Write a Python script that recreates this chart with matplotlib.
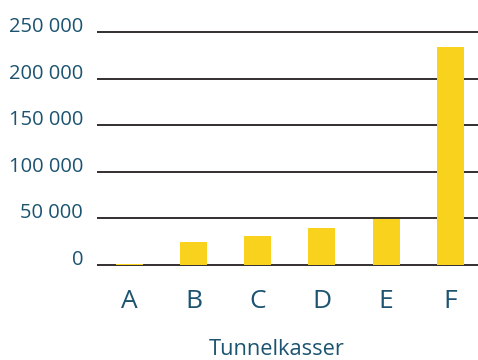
import matplotlib
matplotlib.use('Agg')
import matplotlib.pyplot as plt

categories = ['A', 'B', 'C', 'D', 'E', 'F']
values = [1500, 25000, 31000, 40000, 49500, 234000]
yticks = [0, 50000, 100000, 150000, 200000, 250000]
ytick_labels = ['0', '50 000', '100 000', '150 000', '200 000', '250 000']
xlabel = 'Tunnelkasser'

text_color = '#1b5370'
bar_color = '#f9d21e'
line_color = '#231f20'

plt.rcParams['font.family'] = ['Open Sans', 'DejaVu Sans']

W, H = 478, 360
fig = plt.figure(figsize=(W / 100, H / 100), dpi=100)

# axes placed in pixel terms: left 97, zero at y=265, 250000 at y=32
ppu = 233 / 250000
ymin, ymax = -3000, 255000
bottom_px = 265 + (0 - ymin) * ppu
top_px = 32 - (ymax - 250000) * ppu
left_px, right_px = 97, 482.6
ax = fig.add_axes([left_px / W, 1 - bottom_px / H,
                   (right_px - left_px) / W, (bottom_px - top_px) / H])
ax.set_xlim(-0.5, 5.5)
ax.set_ylim(ymin, ymax)

for y in yticks:
    ax.axhline(y, color=line_color, lw=1.3, zorder=1)
ax.bar(range(len(categories)), values, width=0.42, color=bar_color, zorder=2)

for s in ax.spines.values():
    s.set_visible(False)
ax.set_yticks(yticks)
ax.set_yticklabels(ytick_labels)
ax.set_xticks(range(len(categories)))
ax.set_xticklabels(categories)
ax.tick_params(axis='y', length=0, pad=10, labelsize=14.5, labelcolor=text_color)
ax.tick_params(axis='x', length=0, pad=15.5, labelsize=19, labelcolor=text_color)
for t in ax.get_yticklabels():
    t.set_verticalalignment('baseline')

fig.text(277 / W, 1 - 355 / H, xlabel, ha='center', va='baseline',
         fontsize=15.7, color=text_color)

fig.savefig('out.png', dpi=100)
